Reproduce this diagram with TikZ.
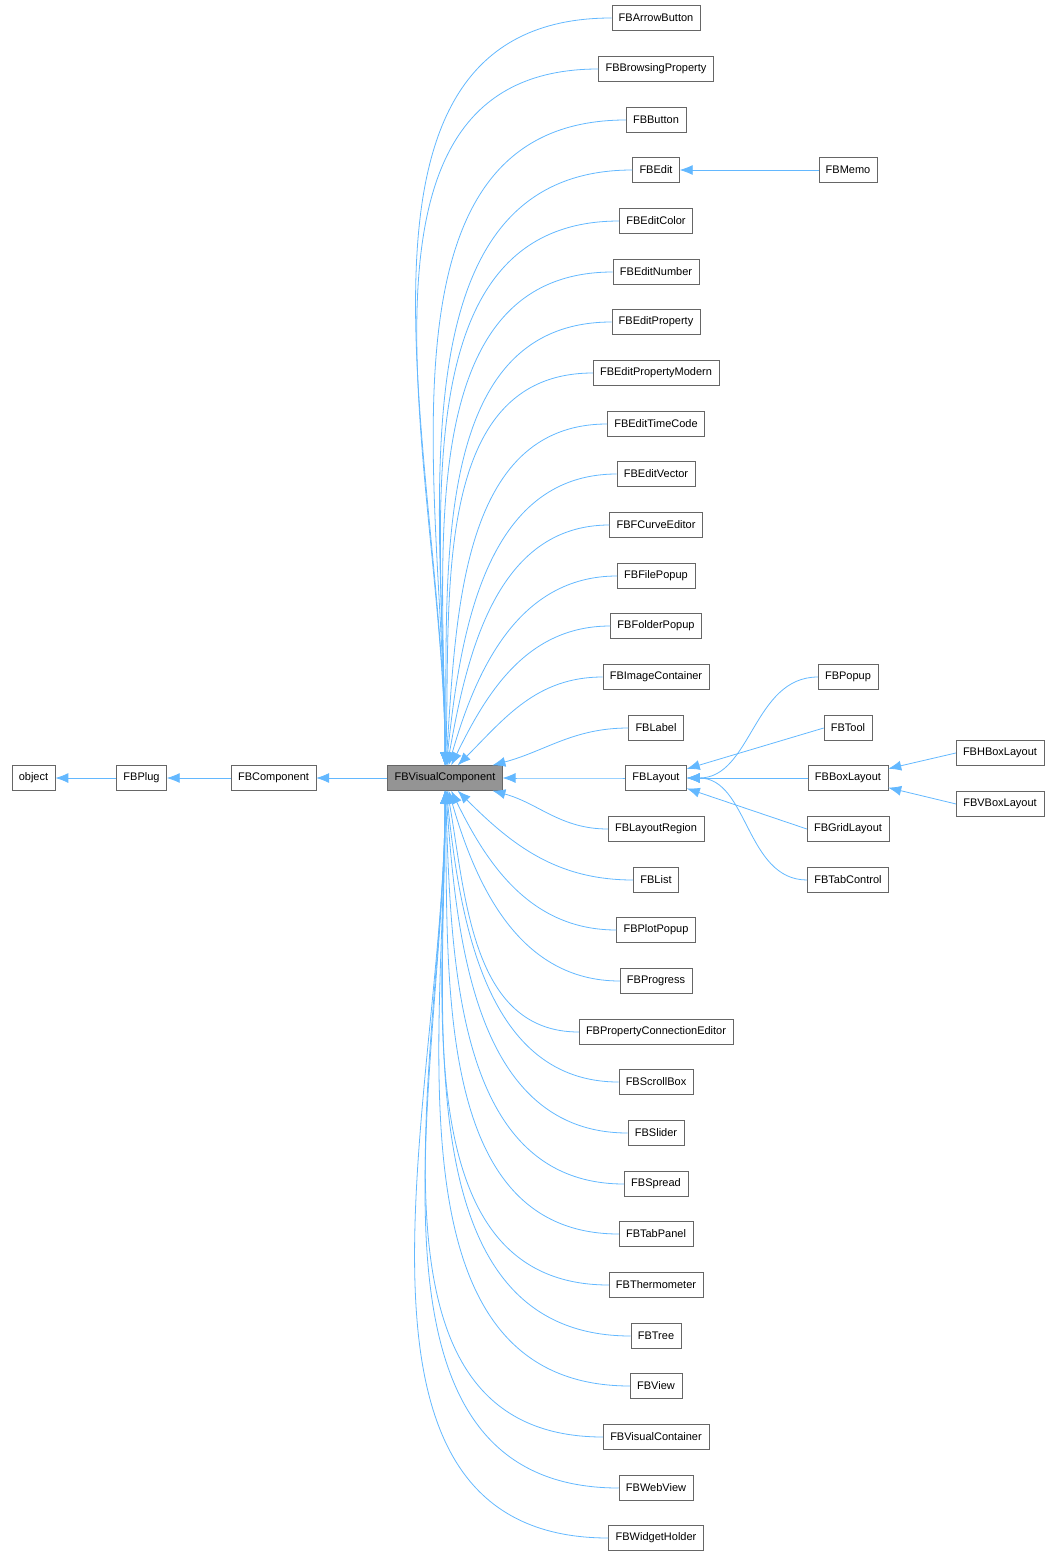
\documentclass[tikz,border=0pt]{standalone}
\usepackage{fontspec}
\setmainfont{Liberation Sans}
\usetikzlibrary{arrows.meta,positioning}
\definecolor{edgeblue}{HTML}{63B8FF}
\definecolor{boxgray}{HTML}{666666}
\tikzset{
	cls/.style={rectangle, draw=boxgray, fill=white, font=\fontsize{11}{12}\selectfont, minimum height=25pt, inner xsep=7pt, inner ysep=0pt},
	clsmain/.style={cls, fill=black!42},
	inherit/.style={edgeblue, line width=0.8pt, {Latex[length=13pt,width=10pt]}-}
}
\begin{document}
\begin{tikzpicture}[x=1pt,y=-1pt]
	\useasboundingbox (0,0) rectangle (1061,1557);
	% base chain
	\node[cls] (obj) at (33.5,778) {object};
	\node[cls] (plug) at (141.5,778) {FBPlug};
	\node[cls] (comp) at (273.5,778) {FBComponent};
	\node[clsmain] (vc) at (445,778) {FBVisualComponent};
	\draw[inherit] (obj) -- (plug);
	\draw[inherit] (plug) -- (comp);
	\draw[inherit] (comp) -- (vc);
	% direct children
	\foreach \n/\t/\y/\a in {
		arrow/FBArrowButton/18/90, brows/FBBrowsingProperty/69/90, btn/FBButton/120/90,
		edit/FBEdit/170/90, ecol/FBEditColor/221/90, enum/FBEditNumber/272/90,
		eprop/FBEditProperty/322/89, epm/FBEditPropertyModern/373/88, etc/FBEditTimeCode/424/86,
		evec/FBEditVector/474/84, fcurve/FBFCurveEditor/525/80, file/FBFilePopup/576/74,
		folder/FBFolderPopup/626/64, img/FBImageContainer/677/45, lab/FBLabel/728/15,
		lay/FBLayout/778/0, lreg/FBLayoutRegion/829/-15, list/FBList/880/-45,
		plot/FBPlotPopup/930/-64, prog/FBProgress/981/-74, pce/FBPropertyConnectionEditor/1032/-80,
		scroll/FBScrollBox/1082/-84, slider/FBSlider/1133/-86, spread/FBSpread/1184/-88,
		tabp/FBTabPanel/1234/-89, thermo/FBThermometer/1285/-90, tree/FBTree/1336/-90,
		view/FBView/1386/-90, vcont/FBVisualContainer/1437/-90, web/FBWebView/1488/-90,
		widget/FBWidgetHolder/1538/-90}{
		\node[cls] (\n) at (656,\y) {\t};
		\draw[inherit] (vc) to[out=\a,in=180] (\n.west);
	}
	% second level
	\node[cls] (memo) at (848,170) {FBMemo};
	\node[cls] (popup) at (848,677) {FBPopup};
	\node[cls] (tool) at (848,728) {FBTool};
	\node[cls] (box) at (848,778) {FBBoxLayout};
	\node[cls] (grid) at (848,829) {FBGridLayout};
	\node[cls] (tabc) at (848,880) {FBTabControl};
	\node[cls] (hbox) at (1000,753) {FBHBoxLayout};
	\node[cls] (vbox) at (1000,804) {FBVBoxLayout};
	\draw[inherit] (edit) -- (memo);
	\draw[inherit] (lay.east) to[out=0,in=180] (popup.west);
	\draw[inherit] (lay) -- (tool.west);
	\draw[inherit] (lay) -- (box);
	\draw[inherit] (lay) -- (grid.west);
	\draw[inherit] (lay.east) to[out=0,in=180] (tabc.west);
	\draw[inherit] (box) -- (hbox.west);
	\draw[inherit] (box) -- (vbox.west);
\end{tikzpicture}
\end{document}
